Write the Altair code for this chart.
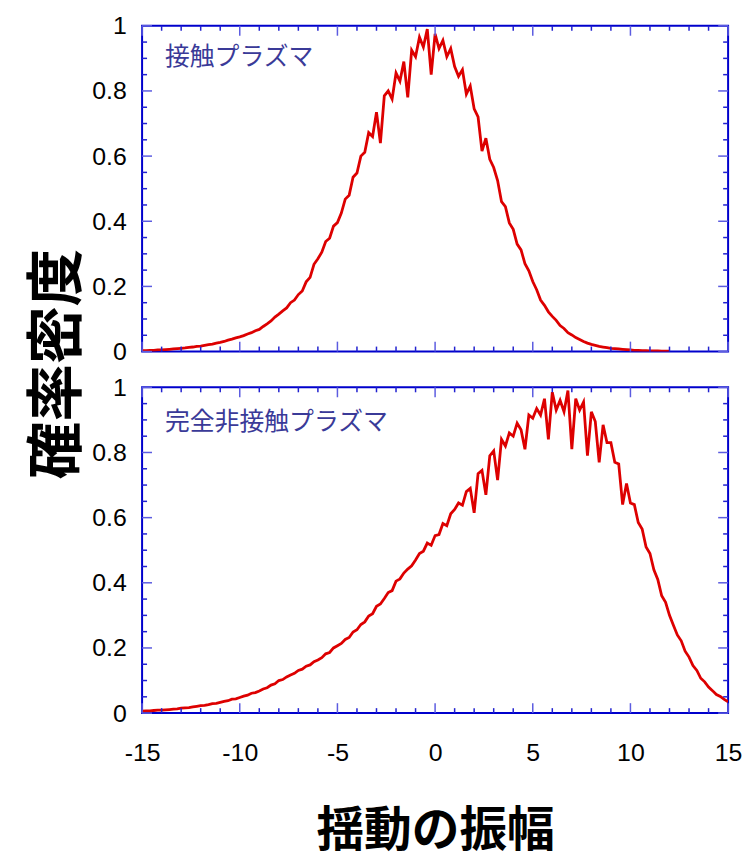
import altair as alt
import numpy as np
import pandas as pd

# ---------------- data ----------------
X_TICKS = [-15, -10, -5, 0, 5, 10, 15]
X_MINOR = [v for v in range(-15, 16) if v % 5 != 0]
Y_TICKS = [0, 0.2, 0.4, 0.6, 0.8, 1.0]
Y_MINOR = [0.05, 0.1, 0.15, 0.25, 0.3, 0.35, 0.45, 0.5, 0.55,
           0.65, 0.7, 0.75, 0.85, 0.9, 0.95]

X_TITLE = "揺動の振幅"
Y_TITLE = "確率密度"
TOP_LABEL = "接触プラズマ"
BOTTOM_LABEL = "完全非接触プラズマ"

# attached plasma: samples every 0.2 from -15 to 12
TOP_Y = [
    0.003, 0.003, 0.004, 0.004, 0.005, 0.005, 0.006, 0.007, 0.008, 0.009,
    0.010, 0.011, 0.013, 0.014, 0.016, 0.017, 0.019, 0.021, 0.023, 0.026,
    0.028, 0.031, 0.035, 0.038, 0.042, 0.045, 0.049, 0.054, 0.058, 0.064,
    0.068, 0.077, 0.085, 0.094, 0.106, 0.115, 0.125, 0.134, 0.150, 0.158,
    0.175, 0.186, 0.214, 0.228, 0.268, 0.285, 0.305, 0.338, 0.348, 0.385,
    0.396, 0.425, 0.468, 0.480, 0.535, 0.548, 0.600, 0.612, 0.672, 0.660,
    0.735, 0.640, 0.785, 0.800, 0.775, 0.855, 0.830, 0.890, 0.780, 0.925,
    0.905, 0.965, 0.935, 0.990, 0.850, 0.975, 0.930, 0.955, 0.905, 0.930,
    0.875, 0.845, 0.865, 0.790, 0.815, 0.745, 0.720, 0.615, 0.655, 0.590,
    0.565, 0.525, 0.460, 0.445, 0.395, 0.375, 0.330, 0.312, 0.270, 0.248,
    0.215, 0.190, 0.158, 0.142, 0.122, 0.108, 0.096, 0.080, 0.071, 0.058,
    0.051, 0.043, 0.037, 0.031, 0.026, 0.022, 0.019, 0.016, 0.014, 0.012,
    0.010, 0.009, 0.008, 0.007, 0.006, 0.005, 0.004, 0.004, 0.003, 0.003,
    0.002, 0.002, 0.002, 0.001, 0.001, 0.001,
]

# fully detached plasma: samples every 0.2 from -15 to 15
BOTTOM_Y = [
    0.006, 0.007, 0.007, 0.008, 0.009, 0.009, 0.010, 0.011, 0.012, 0.013,
    0.015, 0.016, 0.017, 0.019, 0.021, 0.023, 0.024, 0.026, 0.029, 0.030,
    0.033, 0.036, 0.038, 0.043, 0.044, 0.048, 0.052, 0.055, 0.061, 0.063,
    0.068, 0.074, 0.078, 0.086, 0.090, 0.100, 0.103, 0.111, 0.117, 0.122,
    0.131, 0.135, 0.144, 0.148, 0.158, 0.163, 0.170, 0.182, 0.186, 0.200,
    0.207, 0.214, 0.226, 0.232, 0.249, 0.256, 0.272, 0.280, 0.298, 0.305,
    0.328, 0.335, 0.352, 0.370, 0.376, 0.405, 0.412, 0.430, 0.442, 0.452,
    0.470, 0.490, 0.497, 0.522, 0.515, 0.545, 0.548, 0.582, 0.575, 0.612,
    0.625, 0.645, 0.638, 0.680, 0.690, 0.615, 0.735, 0.745, 0.670, 0.790,
    0.805, 0.715, 0.840, 0.820, 0.860, 0.850, 0.890, 0.870, 0.810, 0.915,
    0.905, 0.935, 0.915, 0.965, 0.840, 0.985, 0.930, 0.960, 0.925, 0.990,
    0.810, 0.965, 0.930, 0.955, 0.790, 0.925, 0.895, 0.770, 0.885, 0.830,
    0.830, 0.770, 0.765, 0.640, 0.705, 0.645, 0.640, 0.585, 0.565, 0.510,
    0.490, 0.440, 0.410, 0.360, 0.340, 0.300, 0.270, 0.240, 0.222, 0.190,
    0.172, 0.146, 0.131, 0.107, 0.096, 0.080, 0.069, 0.057, 0.051, 0.042,
    0.035,
]

TOP_X = [round(-15 + 0.2 * i, 1) for i in range(len(TOP_Y))]
BOTTOM_X = [round(-15 + 0.2 * i, 1) for i in range(len(BOTTOM_Y))]

# ---------------- styling ----------------
W, H = 590, 328
FRAME = "#0000cc"
MAJOR_C = "#5c5ce0"
MINOR_C = "#2222d0"
RED = "#dd0000"
NUM_FONT = "Liberation Sans"
CJK_FONT = "Noto Sans CJK JP"

xscale = alt.Scale(domain=[-15, 15], nice=False, zero=False)
yscale = alt.Scale(domain=[0, 1], nice=False, zero=False)


def y_axis(with_title):
    kw = dict(values=Y_TICKS, format=".1~f", ticks=False, domain=False,
              grid=False, labelPadding=16, labelFontSize=25,
              labelFont=NUM_FONT, labelColor="black", labelFlush=False)
    if with_title:
        kw.update(title=Y_TITLE, titleFont=CJK_FONT, titleFontSize=58,
                  titleFontWeight="bold", titleColor="black",
                  titleAngle=270, titleAlign="center",
                  titleBaseline="middle", titleX=-84, titleY=340)
    else:
        kw.update(title=None)
    return alt.Axis(**kw)


def x_axis(show):
    if not show:
        return None
    return alt.Axis(values=X_TICKS, labelExpr="toString(datum.value)",
                    ticks=False, domain=False, grid=False, labelPadding=28,
                    labelFontSize=25, labelFont=NUM_FONT, labelColor="black",
                    labelFlush=False, labelOverlap=False,
                    title=X_TITLE, titleFont=CJK_FONT, titleFontSize=48,
                    titleFontWeight="bold", titleColor="black",
                    titlePadding=42)


def panel(xs, ys, label, is_top):
    xaxis = x_axis(not is_top)
    yaxis = y_axis(is_top)
    df = pd.DataFrame({"x": xs, "y": ys})
    line = alt.Chart(df).mark_line(color=RED, strokeWidth=2.8, clip=True).encode(
        x=alt.X("x:Q", scale=xscale, axis=xaxis),
        y=alt.Y("y:Q", scale=yscale, axis=yaxis),
    )
    layers = [line]
    for vals, size, col in [(X_TICKS, 10, MAJOR_C), (X_MINOR, 5, MINOR_C)]:
        d = pd.DataFrame({"x": vals})
        base = alt.Chart(d).mark_rule(color=col, strokeWidth=1.5)
        xenc = alt.X("x:Q", scale=xscale, axis=xaxis)
        layers.append(base.encode(x=xenc, y=alt.value(H), y2=alt.value(H - size)))
        layers.append(base.encode(x=xenc, y=alt.value(0), y2=alt.value(size)))
    for vals, size, col in [(Y_TICKS, 10, MAJOR_C), (Y_MINOR, 5, MINOR_C)]:
        d = pd.DataFrame({"y": vals})
        base = alt.Chart(d).mark_rule(color=col, strokeWidth=1.5)
        yenc = alt.Y("y:Q", scale=yscale, axis=yaxis)
        layers.append(base.encode(y=yenc, x=alt.value(0), x2=alt.value(size)))
        layers.append(base.encode(y=yenc, x=alt.value(W), x2=alt.value(W - size)))
    txt = alt.Chart(pd.DataFrame({"label": [label]})).mark_text(
        font=CJK_FONT, fontSize=25, color="#3a3a98", align="left",
        baseline="middle"
    ).encode(x=alt.value(23), y=alt.value(31 if is_top else 35), text="label:N")
    layers.append(txt)
    return alt.layer(*layers).properties(width=W, height=H)


top = panel(TOP_X, TOP_Y, TOP_LABEL, True)
bottom = panel(BOTTOM_X, BOTTOM_Y, BOTTOM_LABEL, False)

chart = alt.vconcat(top, bottom, spacing=36, bounds="flush").properties(
    padding={"left": 21, "top": 2, "right": 0, "bottom": 4}
).configure_view(stroke=FRAME, strokeWidth=2)

chart.save("out.html", embed_options={"renderer": "svg", "actions": False})
